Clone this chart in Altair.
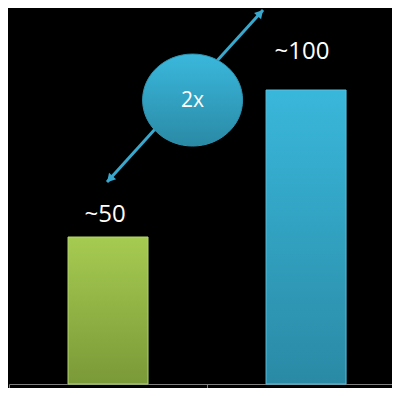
import altair as alt
import pandas as pd

# ---- data ----
categories = ["A", "B"]
values = [50, 100]
labels = ["~50", "~100"]

# annotation (arrow + "2x" bubble) anchor points in data units
arrow_x = [0.495, 1.283]
arrow_y = [68.7, 127.2]
head_x = [0.509, 1.269]
head_y = [69.7, 126.2]
head_angle = [222, 42]
bubble_x = [0.927]
bubble_y = [96.6]
bubble_text = ["2x"]

X_MAX = 1.934
Y_MAX = 127.9

bars = pd.DataFrame({
    "cat": categories,
    "pos": [i + 0.5 for i in range(len(categories))],
    "value": values,
    "label": labels,
})
arrow = pd.DataFrame({"x": arrow_x, "y": arrow_y})
heads = pd.DataFrame({"x": head_x, "y": head_y, "angle": head_angle})
bubble = pd.DataFrame({"x": bubble_x, "y": bubble_y, "t": bubble_text})

xscale = alt.Scale(domain=[0, X_MAX], nice=False, zero=False, padding=0)
yscale = alt.Scale(domain=[0, Y_MAX], nice=False, padding=0)

xaxis = alt.Axis(values=[0, 1], labels=False, ticks=True, tickSize=5,
                 domainColor="#7f7f7f", tickColor="#7f7f7f", grid=False,
                 title=None, domainWidth=1, tickWidth=1)

def grad(top, bottom):
    return alt.Gradient(gradient="linear", x1=0, x2=0, y1=0, y2=1,
                        stops=[alt.GradientStop(color=top, offset=0),
                               alt.GradientStop(color=bottom, offset=1)])

base = alt.Chart(bars)
X = alt.X("pos:Q", scale=xscale, axis=xaxis)
Y = alt.Y("value:Q", scale=yscale, axis=None)

green = base.transform_filter(alt.datum.cat == "A").mark_bar(
    orient="vertical", size=80, fill=grad("#a6cb51", "#7a9938"),
    stroke="#b4d66c", strokeWidth=1
).encode(x=X, y=Y)

blue = base.transform_filter(alt.datum.cat == "B").mark_bar(
    orient="vertical", size=80, fill=grad("#39b7db", "#2a8aa5"),
    stroke="#55c2e0", strokeWidth=1
).encode(x=X, y=Y)

lab50 = base.transform_filter(alt.datum.cat == "A").mark_text(
    font="Open Sans", fontSize=24, color="white", baseline="alphabetic",
    align="center", dy=-15, dx=-3
).encode(x=alt.X("pos:Q", scale=xscale), y=alt.Y("value:Q", scale=yscale), text="label:N")

lab100 = base.transform_filter(alt.datum.cat == "B").mark_text(
    font="Open Sans", fontSize=24, color="white", baseline="alphabetic",
    align="center", dy=-31, dx=-4
).encode(x=alt.X("pos:Q", scale=xscale), y=alt.Y("value:Q", scale=yscale), text="label:N")

arrow_line = alt.Chart(arrow).mark_line(color="#3aa8cd", strokeWidth=3).encode(
    x=alt.X("x:Q", scale=xscale), y=alt.Y("y:Q", scale=yscale)
)

arrow_heads = alt.Chart(heads).mark_point(
    shape="triangle-up", filled=True, fill="#3aa8cd", opacity=1, size=90, strokeWidth=0
).encode(
    x=alt.X("x:Q", scale=xscale), y=alt.Y("y:Q", scale=yscale),
    angle=alt.Angle("angle:Q", scale=None)
)

bubble_mark = alt.Chart(bubble).mark_point(
    shape="M-1,0A1,0.92,0,1,1,1,0A1,0.92,0,1,1,-1,0Z",
    filled=True, fill=grad("#3ab8dc", "#2a8aa5"), opacity=1, size=10000,
    stroke="#2e93b0", strokeWidth=1
).encode(x=alt.X("x:Q", scale=xscale), y=alt.Y("y:Q", scale=yscale))

bubble_label = alt.Chart(bubble).mark_text(
    font="Open Sans", fontSize=21, color="white", baseline="middle", align="center", dy=1
).encode(x=alt.X("x:Q", scale=xscale), y=alt.Y("y:Q", scale=yscale), text="t:N")

chart = alt.layer(
    green, blue, lab50, lab100, arrow_line, arrow_heads, bubble_mark, bubble_label
).properties(
    width=383, height=376,
    autosize=alt.AutoSizeParams(type="none"),
    padding={"left": 1, "top": 0, "right": 0, "bottom": 4},
    background="black",
).configure_view(stroke=None, clip=False)

chart.save("out.html", embed_options={"renderer": "svg", "actions": False})
